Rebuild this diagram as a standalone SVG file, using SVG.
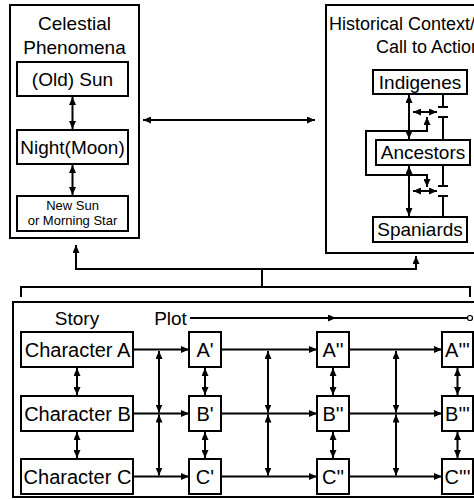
<svg xmlns="http://www.w3.org/2000/svg" width="474" height="500" viewBox="0 0 474 500">
<defs>
<marker id="ah" viewBox="0 0 8 7" refX="8" refY="3.5" markerWidth="8" markerHeight="7" markerUnits="userSpaceOnUse" orient="auto-start-reverse"><path d="M0,0 L8,3.5 L0,7 z" fill="#000"/></marker>
</defs>
<style>
.box{fill:#fff;stroke:#000;stroke-width:2}
.frame{fill:none;stroke:#000;stroke-width:2}
.ln{fill:none;stroke:#000;stroke-width:2}
.a1{marker-end:url(#ah)}
.a2{marker-start:url(#ah);marker-end:url(#ah)}
text{font-family:"Liberation Sans",Arial,sans-serif;font-size:19px;text-anchor:middle;fill:#000}
.sm{font-size:13px}
.st{text-anchor:start;font-size:18px}
.ch{font-size:20px}
</style>
<rect width="474" height="500" fill="#fff"/>

<g id="celestial">
<rect class="frame" x="10" y="5" width="129" height="233"/>
<text x="74.5" y="30">Celestial</text>
<text x="74.5" y="54">Phenomena</text>
</g>
<g id="old-sun"><rect class="box" x="17" y="62" width="111" height="34"/><text x="72.5" y="86">(Old) Sun</text></g>
<g id="night-moon"><rect class="box" x="17" y="130" width="111" height="34"/><text x="72.5" y="154">Night(Moon)</text></g>
<g id="new-sun"><rect class="box" x="17" y="196" width="111" height="35"/><text class="sm" x="72.5" y="210">New Sun</text><text class="sm" x="72.5" y="225">or Morning Star</text></g>

<g id="historical">
<rect class="frame" x="326" y="5" width="170" height="248"/>
<text class="st" x="329" y="30">Historical Context/</text>
<text class="st" x="376" y="53">Call to Action</text>
</g>
<g id="indigenes"><rect class="box" x="373" y="70" width="94" height="24"/><text x="420" y="89">Indigenes</text></g>
<g id="ancestors"><rect class="box" x="376" y="140" width="94" height="25"/><text x="423" y="159">Ancestors</text></g>
<g id="spaniards"><rect class="box" x="373" y="217" width="94" height="25"/><text x="420" y="236">Spaniards</text></g>

<g id="story-plot">
<rect class="frame" x="13" y="302" width="475" height="195"/>
<text x="77" y="325">Story</text>
<text x="170.5" y="325">Plot</text>
</g>
<g id="char-a"><rect class="box" x="21" y="332" width="112" height="35"/><text class="ch" x="77.5" y="356.5">Character A</text></g>
<g id="char-b"><rect class="box" x="21" y="396" width="112" height="35"/><text class="ch" x="77.5" y="420.5">Character B</text></g>
<g id="char-c"><rect class="box" x="21" y="459" width="112" height="35"/><text class="ch" x="77.5" y="483.5">Character C</text></g>
<g id="a1"><rect class="box" x="189" y="332" width="32" height="35"/><text class="ch" x="205" y="356.5">A'</text></g>
<g id="b1"><rect class="box" x="189" y="396" width="32" height="35"/><text class="ch" x="205" y="420.5">B'</text></g>
<g id="c1"><rect class="box" x="189" y="459" width="32" height="35"/><text class="ch" x="205" y="483.5">C'</text></g>
<g id="a2"><rect class="box" x="317" y="332" width="32" height="35"/><text class="ch" x="333" y="356.5">A''</text></g>
<g id="b2"><rect class="box" x="317" y="396" width="32" height="35"/><text class="ch" x="333" y="420.5">B''</text></g>
<g id="c2"><rect class="box" x="317" y="459" width="32" height="35"/><text class="ch" x="333" y="483.5">C''</text></g>
<g id="a3"><rect class="box" x="442" y="332" width="31" height="35"/><text class="ch" x="457.5" y="356.5">A'''</text></g>
<g id="b3"><rect class="box" x="442" y="396" width="31" height="35"/><text class="ch" x="457.5" y="420.5">B'''</text></g>
<g id="c3"><rect class="box" x="442" y="459" width="31" height="35"/><text class="ch" x="457.5" y="483.5">C'''</text></g>

<g id="connectors">
<path class="ln a2" d="M72.5,97 V129"/>
<path class="ln a2" d="M72.5,165 V195"/>
<path class="ln a2" d="M143,120 H315"/>
<path class="ln a2" d="M409,95 V139"/>
<path class="ln a2" d="M409,166 V216"/>
<path class="ln" d="M443,94 V107 M438,107 H448 M438,117 H448 M443,117 V140"/>
<path class="ln" d="M443,165 V186 M438,186 H448 M438,196 H448 M443,196 V217"/>
<path class="ln a2" d="M413,112 H437"/>
<path class="ln a2" d="M413,191 H437"/>
<path class="ln a2" d="M427,117 V131 H366 V175 H427 V187"/>
<path class="ln a2" d="M76,245 V269 H416 V256"/>
<path class="ln" d="M262,269 V287"/>
<path class="ln" d="M21,297 V287 H470 V297"/>
<path class="ln a1" d="M190,318 H336"/>
<path class="ln" d="M336,318 H467"/>
<circle cx="470" cy="318" r="2.5" fill="#fff" stroke="#000" stroke-width="1.2"/>
<path class="ln a1" d="M133,349.5 H189"/>
<path class="ln a1" d="M221,349.5 H317"/>
<path class="ln a1" d="M349,349.5 H442"/>
<path class="ln a1" d="M133,413.5 H189"/>
<path class="ln a1" d="M221,413.5 H317"/>
<path class="ln a1" d="M349,413.5 H442"/>
<path class="ln a1" d="M133,476.5 H189"/>
<path class="ln a1" d="M221,476.5 H317"/>
<path class="ln a1" d="M349,476.5 H442"/>
<path class="ln a2" d="M77,368 V395"/>
<path class="ln a2" d="M77,432 V458"/>
<path class="ln a2" d="M205,368 V395"/>
<path class="ln a2" d="M205,432 V458"/>
<path class="ln a2" d="M333,368 V395"/>
<path class="ln a2" d="M333,432 V458"/>
<path class="ln a2" d="M457.5,368 V395"/>
<path class="ln a2" d="M457.5,432 V458"/>
<path class="ln a2" d="M159,351 V412.5"/>
<path class="ln a2" d="M159,414.5 V475.5"/>
<path class="ln a2" d="M268,351 V412.5"/>
<path class="ln a2" d="M268,414.5 V475.5"/>
<path class="ln a2" d="M396,351 V412.5"/>
<path class="ln a2" d="M396,414.5 V475.5"/>
</g>
</svg>
